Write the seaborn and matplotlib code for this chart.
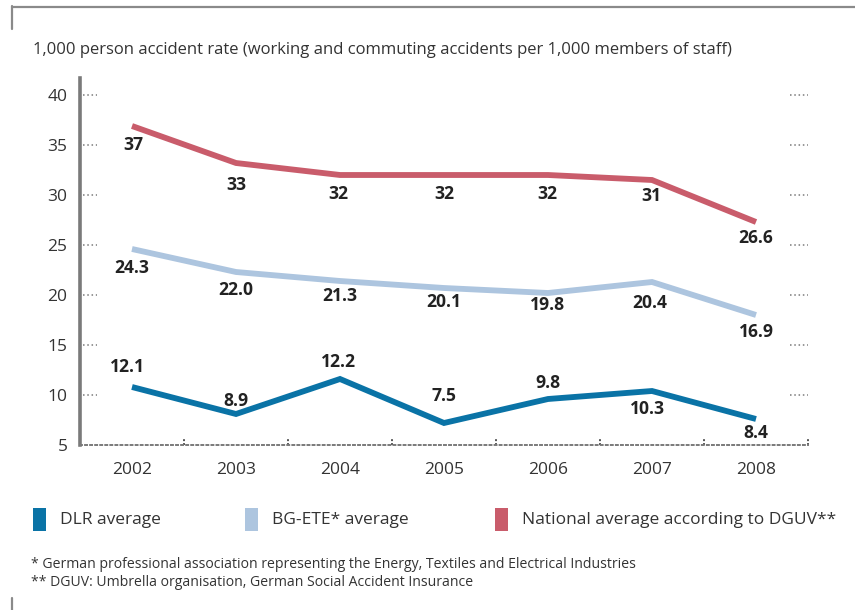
import matplotlib
matplotlib.use("Agg")
import matplotlib.pyplot as plt
from matplotlib.lines import Line2D
from matplotlib.patches import Rectangle
import matplotlib.transforms as mtransforms
import seaborn as sns
import pandas as pd

# ---------------- data ----------------
years = [2002, 2003, 2004, 2005, 2006, 2007, 2008]
series_names = ["DLR average", "BG-ETE* average", "National average according to DGUV**"]
dlr_values = [10.8, 8.1, 11.6, 7.2, 9.6, 10.4, 7.6]
bg_values = [24.6, 22.3, 21.4, 20.7, 20.2, 21.3, 18.0]
nat_values = [36.9, 33.2, 32.0, 32.0, 32.0, 31.5, 27.3]
dlr_labels = ["12.1", "8.9", "12.2", "7.5", "9.8", "10.3", "8.4"]
bg_labels = ["24.3", "22.0", "21.3", "20.1", "19.8", "20.4", "16.9"]
nat_labels = ["37", "33", "32", "32", "32", "31", "26.6"]
y_ticks = [5, 10, 15, 20, 25, 30, 35, 40]
title = "1,000 person accident rate (working and commuting accidents per 1,000 members of staff)"
footnotes = ["* German professional association representing the Energy, Textiles and Electrical Industries",
             "** DGUV: Umbrella organisation, German Social Accident Insurance"]

# ---------------- style ----------------
colors = ["#0a73a6", "#adc5df", "#c95c6b"]
# label offsets in pixels (dx, dy), dy positive = up
dlr_off = [(-5, 20), (0, 13), (-2, 17), (0, 27), (0, 16), (-5, -18), (0, -14)]
bg_off = [(0, -19), (0, -18), (0, -15), (0, -14), (0, -12), (-2, -21), (0, -17)]
nat_off = [(1, -19), (0, -22), (-2, -19), (0, -19), (-1, -19), (-1, -16), (0, -16)]

sns.set_theme(style="white")
plt.rcParams["font.family"] = ["Open Sans", "DejaVu Sans"]
text_color = "#222222"
grey = "#7a7a7a"

W, H = 855, 610
fig = plt.figure(figsize=(W / 100, H / 100), dpi=100)
fig.patch.set_facecolor("white")

def fx(px):
    return px / W

def fy(py):
    return 1 - py / H

ax_left, ax_right, ax_top, ax_bottom = 80, 808, 78, 445
ax = fig.add_axes([fx(ax_left), fy(ax_bottom), (ax_right - ax_left) / W, (ax_bottom - ax_top) / H])
ax.set_facecolor("white")

df = pd.DataFrame({
    "year": years * 3,
    "value": dlr_values + bg_values + nat_values,
    "series": [series_names[0]] * 7 + [series_names[1]] * 7 + [series_names[2]] * 7,
})
sns.lineplot(data=df, x="year", y="value", hue="series", hue_order=series_names,
             palette=colors, linewidth=4.2, legend=False, ax=ax, sort=False)
for ln in ax.get_lines():
    ln.set_solid_capstyle("butt")
    ln.set_solid_joinstyle("miter")

ax.set_xlim(2001.5, 2008.5)
ax.set_ylim(5, 5 + (ax_bottom - ax_top) / 10.0)

for vals, labs, offs in [(dlr_values, dlr_labels, dlr_off),
                         (bg_values, bg_labels, bg_off),
                         (nat_values, nat_labels, nat_off)]:
    for x, v, t, (dx, dy) in zip(years, vals, labs, offs):
        ax.annotate(t, xy=(x, v), xytext=(dx, dy), textcoords="offset pixels",
                    ha="center", va="center", fontsize=12.6, fontweight="bold",
                    color=text_color)

# axes / spines
ax.set_xlabel("")
ax.set_ylabel("")
ax.set_xticks(years)
ax.set_xticklabels([str(y) for y in years])
ax.set_yticks(y_ticks)
ax.tick_params(axis="x", length=0, pad=12, labelsize=12.5, labelcolor="#333333")
ax.tick_params(axis="y", length=0, pad=9, labelsize=12.5, labelcolor="#333333")
for s in ["top", "right"]:
    ax.spines[s].set_visible(False)
ax.spines["left"].set_color(grey)
ax.spines["left"].set_linewidth(2.6)
ax.spines["bottom"].set_color(grey)
ax.spines["bottom"].set_linewidth(1.4)
ax.spines["bottom"].set_linestyle((0, (1, 1.6)))

# dotted tick marks on both sides
trans = mtransforms.blended_transform_factory(ax.transAxes, ax.transData)
width_px = ax_right - ax_left
for t in y_ticks[1:]:
    ax.plot([3 / width_px, 17 / width_px], [t, t], transform=trans, color=grey,
            lw=1.1, ls=(0, (1, 1.8)), clip_on=False)
    ax.plot([710 / width_px, 1.0], [t, t], transform=trans, color=grey,
            lw=1.1, ls=(0, (1, 1.8)), clip_on=False)
for b in [y + 0.5 for y in years]:
    ax.plot([b, b], [5, 5.6], color="#555555", lw=1.4, ls=(0, (1, 1.0)), clip_on=False)

# title
fig.text(fx(33), fy(50), title, fontsize=12, color="#333333", va="center", ha="left")

# frame lines
fig.add_artist(Line2D([fx(12), 1.0], [fy(7), fy(7)], color="#8a8a8a", lw=1.6))
fig.add_artist(Line2D([fx(12), fx(12)], [fy(6.3), fy(29)], color="#8a8a8a", lw=1.6))
fig.add_artist(Line2D([fx(12), fx(12)], [fy(598), fy(611)], color="#8a8a8a", lw=1.6))

# legend
legend_x = [33, 245, 495]
for name, c, lx in zip(series_names, colors, legend_x):
    fig.add_artist(Rectangle((fx(lx), fy(531)), 13 / W, 23 / H, transform=fig.transFigure,
                             facecolor=c, edgecolor="none"))
    fig.text(fx(lx + 27), fy(520), name, fontsize=12.5, color="#333333",
             va="center", ha="left")

# footnotes
for i, fn in enumerate(footnotes):
    fig.text(fx(31), fy(564 + 19 * i), fn, fontsize=10.1, color="#333333", va="center",
             ha="left")

fig.savefig("out.png", dpi=100, facecolor="white")
